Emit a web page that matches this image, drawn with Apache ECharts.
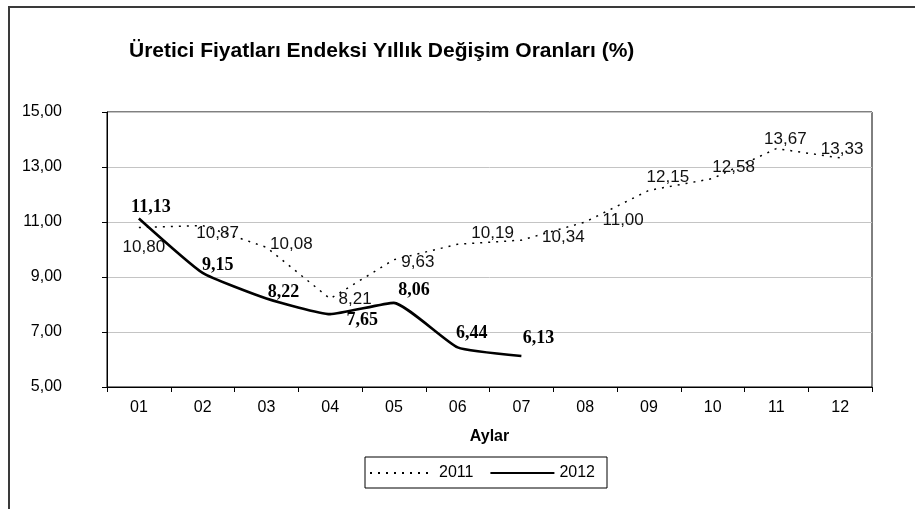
<!DOCTYPE html>
<html>
<head>
<meta charset="utf-8">
<script src="https://cdn.jsdelivr.net/npm/echarts@6/dist/echarts.min.js"></script>
<style>
html,body{margin:0;padding:0;background:#fff;}
#chart{width:915px;height:509px;}
</style>
</head>
<body>
<div id="chart"></div>
<script>
var months = ['01','02','03','04','05','06','07','08','09','10','11','12'];
var values2011 = [10.80, 10.87, 10.08, 8.21, 9.63, 10.19, 10.34, 11.00, 12.15, 12.58, 13.67, 13.33];
var values2012 = [11.13, 9.15, 8.22, 7.65, 8.06, 6.44, 6.13];
var seriesNames = ['2011', '2012'];
var titleText = 'Üretici Fiyatları Endeksi Yıllık Değişim Oranları (%)';
var axisName = 'Aylar';

// label placement (pixel offsets from each point), kept apart from data
var offsets2011 = [[5,20],[15,8],[25,-3],[25,1],[24,3],[35,-11],[42,-3],[38,-2],[19,-13],[21,-11],[9,-9],[2,-9]];
var offsets2012 = [[12,-11],[15,-8],[17,-6],[32,6],[20,-13],[14,-14],[17,-18]];

function fmt(v){ return v.toFixed(2).replace('.', ','); }

function buildData(vals, offs){
  return vals.map(function(v, i){
    return { value: v, label: { offset: offs[i] } };
  });
}

var chart = echarts.init(document.getElementById('chart'), null, {renderer:'canvas'});
chart.setOption({
  backgroundColor: '#ffffff',
  animation: false,
  title: {
    text: titleText,
    left: 124,
    top: 36,
    textStyle: { fontFamily: 'Liberation Sans', fontWeight: 'bold', fontSize: 21, color: '#000' }
  },
  graphic: [{
    type: 'polyline',
    shape: { points: [[9, 509], [9, 7], [915, 7]] },
    style: { stroke: '#3a3a3a', lineWidth: 2, fill: null }
  }],
  grid: {
    left: 107, right: 43, top: 112, bottom: 122,
    show: true, borderColor: '#000', borderWidth: 1, backgroundColor: 'transparent'
  },
  legend: {
    data: seriesNames,
    left: 365, top: 457,
    orient: 'horizontal',
    itemWidth: 64, itemHeight: 10, itemGap: 16,
    padding: [8, 12, 7, 4],
    borderColor: '#000', borderWidth: 1,
    textStyle: { fontFamily: 'Liberation Sans', fontSize: 16, color: '#000' },
    itemStyle: { color: 'transparent', borderWidth: 0 }
  },
  xAxis: {
    type: 'category',
    data: months,
    boundaryGap: true,
    name: axisName,
    nameLocation: 'middle',
    nameGap: 42,
    nameTextStyle: { fontFamily: 'Liberation Sans', fontWeight: 'bold', fontSize: 16, color: '#000' },
    axisLine: { show: true, lineStyle: { color: '#000', width: 1 } },
    axisTick: { show: true, alignWithLabel: false, length: 5, lineStyle: { color: '#000' } },
    axisLabel: { margin: 13, fontFamily: 'Liberation Sans', fontSize: 16, color: '#000' },
    splitLine: { show: false }
  },
  yAxis: {
    type: 'value',
    min: 5, max: 15, interval: 2,
    axisLine: { show: true, lineStyle: { color: '#000', width: 1 } },
    axisTick: { show: true, length: 5, lineStyle: { color: '#000' } },
    axisLabel: { margin: 45, fontFamily: 'Liberation Sans', fontSize: 16, color: '#000', formatter: fmt },
    splitLine: { show: true, lineStyle: { color: '#c4c4c4', width: 1 } }
  },
  series: [{
    name: seriesNames[0],
    type: 'line',
    data: buildData(values2011, offsets2011),
    symbol: 'circle', symbolSize: 2, showSymbol: true,
    itemStyle: { color: 'transparent', borderWidth: 0 },
    lineStyle: { color: '#000', width: 1.5, type: [2, 6] },
    label: {
      show: true, position: 'inside', align: 'center', verticalAlign: 'middle',
      fontFamily: 'Liberation Sans', fontSize: 17, color: '#111',
      formatter: function(p){ return fmt(p.value); }
    },
    z: 2
  }, {
    name: seriesNames[1],
    type: 'line',
    data: buildData(values2012, offsets2012),
    symbol: 'circle', symbolSize: 2, showSymbol: true,
    smooth: 0.15,
    itemStyle: { color: 'transparent', borderWidth: 0 },
    lineStyle: { color: '#000', width: 2.6, type: 'solid' },
    label: {
      show: true, position: 'inside', align: 'center', verticalAlign: 'middle',
      fontFamily: 'Liberation Serif', fontWeight: 'bold', fontSize: 18, color: '#000',
      formatter: function(p){ return fmt(p.value); }
    },
    z: 3
  }]
});
</script>
</body>
</html>
